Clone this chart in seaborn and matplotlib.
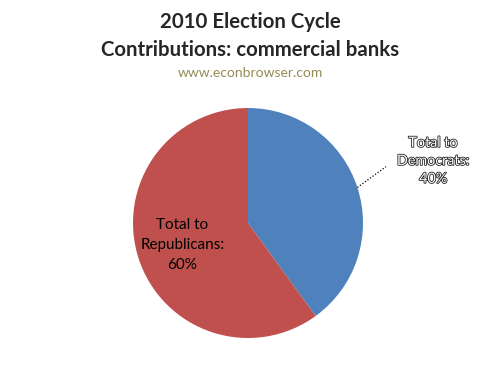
import numpy as np
import matplotlib
matplotlib.use("Agg")
import matplotlib.pyplot as plt
import matplotlib.patheffects as pe
import seaborn as sns

# values
parties = ["Democrats", "Republicans"]
shares = [40, 60]
colors = ["#4F81BD", "#C0504D"]

title = "2010 Election Cycle\nContributions: commercial banks"
source = "www.econbrowser.com"

sns.set_style("white")
plt.rcParams['font.family'] = ['Lato', 'DejaVu Sans']

fig = plt.figure(figsize=(4.95, 3.70), dpi=100)
ax = fig.add_axes([133 / 495, 32 / 370, 230 / 495, 230 / 370])

wedges, _ = ax.pie(shares, colors=colors, startangle=90, counterclock=False,
                   wedgeprops=dict(linewidth=0))
ax.set_xlim(-1, 1)
ax.set_ylim(-1, 1)
ax.set_aspect('equal')
ax.axis('off')

# Democrats label outside with dotted leader
w = wedges[0]
ang = np.deg2rad((w.theta1 + w.theta2) / 2)
x0, y0 = np.cos(ang), np.sin(ang)
ax.plot([x0, 1.20], [y0, 0.49], color='black', lw=0.9, ls=(0, (1, 1.5)), clip_on=False)
t = ax.text(1.61, 0.54, f"Total to\n{parties[0]}:\n{shares[0]}%", ha='center', va='center',
            fontsize=10.3, color='white', linespacing=1.6)
t.set_path_effects([pe.withStroke(linewidth=1.2, foreground='#222222')])

# Republicans label inside
ax.text(-0.57, -0.19, f"Total to\n{parties[1]}:\n{shares[1]}%", ha='center', va='center',
        fontsize=11, color='black', linespacing=1.55)

fig.text(0.505, 1 - 36 / 370, title, ha='center', va='center', fontsize=14.7,
         fontweight='bold', linespacing=1.55)
fig.text(0.505, 1 - 73 / 370, source, ha='center', va='center', fontsize=10,
         color='#948A54')

fig.savefig('out.png', dpi=100)
